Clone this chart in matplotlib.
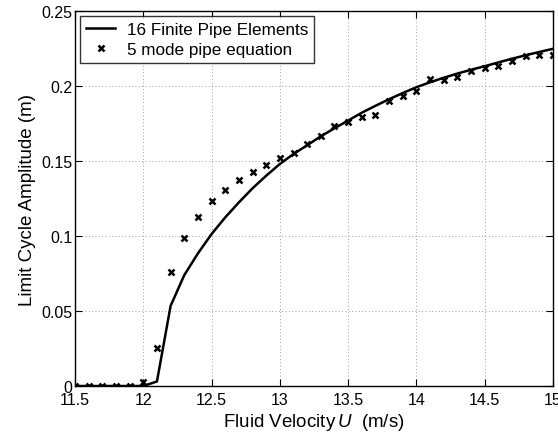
import numpy as np
import matplotlib
matplotlib.use("agg")
import matplotlib.pyplot as plt

plt.rcParams["font.family"] = ["Liberation Sans", "DejaVu Sans"]
plt.rcParams["mathtext.fontset"] = "custom"
plt.rcParams["mathtext.it"] = "Liberation Sans:italic"
plt.rcParams["mathtext.rm"] = "Liberation Sans"

# fluid velocity (m/s)
u_fe = [11.5, 11.6, 11.7, 11.8, 11.9, 12.0, 12.1, 12.2, 12.3, 12.4, 12.5, 12.6,
        12.7, 12.8, 12.9, 13.0, 13.1, 13.2, 13.3, 13.4, 13.5, 13.6, 13.7, 13.8,
        13.9, 14.0, 14.1, 14.2, 14.3, 14.4, 14.5, 14.6, 14.7, 14.8, 14.9, 15.0]
# 16 finite pipe elements
amp_fe = [0.0, 0.0, 0.0, 0.0, 0.0, 0.0, 0.003, 0.0534, 0.0739, 0.0884, 0.1013, 0.1124,
          0.1224, 0.1318, 0.1402, 0.1480, 0.1547, 0.1605, 0.1665, 0.1718, 0.1770, 0.1822,
          0.1868, 0.1912, 0.1953, 0.1992, 0.2025, 0.2055, 0.2083, 0.2108, 0.2132, 0.2157,
          0.2182, 0.2205, 0.2227, 0.2248]

u_mode = u_fe
# 5 mode pipe equation
amp_mode = [0.0, 0.0, 0.0, 0.0, 0.0, 0.003, 0.0256, 0.0761, 0.0984, 0.1126, 0.1231, 0.1308,
            0.1373, 0.1429, 0.1475, 0.1518, 0.1553, 0.1613, 0.1665, 0.1736, 0.1758, 0.1796,
            0.1807, 0.1899, 0.1936, 0.1965, 0.2047, 0.2041, 0.2063, 0.2099, 0.2119, 0.2132,
            0.2166, 0.2203, 0.2208, 0.2208]

fig = plt.figure(figsize=(5.58, 4.35), dpi=100)
ax = fig.add_axes([75 / 558, 1 - 387 / 435, 478 / 558, 375 / 435])

ax.plot(u_fe, amp_fe, color="black", lw=1.8, label="16 Finite Pipe Elements")
ax.plot(u_mode, amp_mode, ls="none", marker="x", ms=5, mew=1.8, color="black",
        label="5 mode pipe equation")

ax.set_xlim(11.5, 15)
ax.set_ylim(0, 0.25)
ax.set_xticks(np.arange(11.5, 15.01, 0.5))
ax.set_xticklabels(["11.5", "12", "12.5", "13", "13.5", "14", "14.5", "15"])
ax.set_yticks([0, 0.05, 0.1, 0.15, 0.2, 0.25])
ax.set_yticklabels(["0", "0.05", "0.1", "0.15", "0.2", "0.25"])
ax.tick_params(direction="in", top=True, right=True, labelsize=11.5, length=5)
ax.tick_params(axis="x", pad=4)
ax.tick_params(axis="y", pad=2)
ax.grid(True, ls=(0, (1, 3)), color="black", lw=0.6, alpha=0.5)
for s in ax.spines.values():
    s.set_linewidth(1.0)

ax.set_xlabel("Fluid Velocity$\\,U$  (m/s)", fontsize=13.5, labelpad=3)
ax.set_ylabel("Limit Cycle Amplitude (m)", fontsize=13.5, labelpad=4)

leg = ax.legend(loc="upper left", fontsize=12.3, frameon=True, fancybox=False,
                edgecolor="black", borderaxespad=0.3, handlelength=1.7,
                handletextpad=0.7, borderpad=0.35, labelspacing=0.3)
leg.get_frame().set_linewidth(1.0)

fig.savefig("out.png", dpi=100)
